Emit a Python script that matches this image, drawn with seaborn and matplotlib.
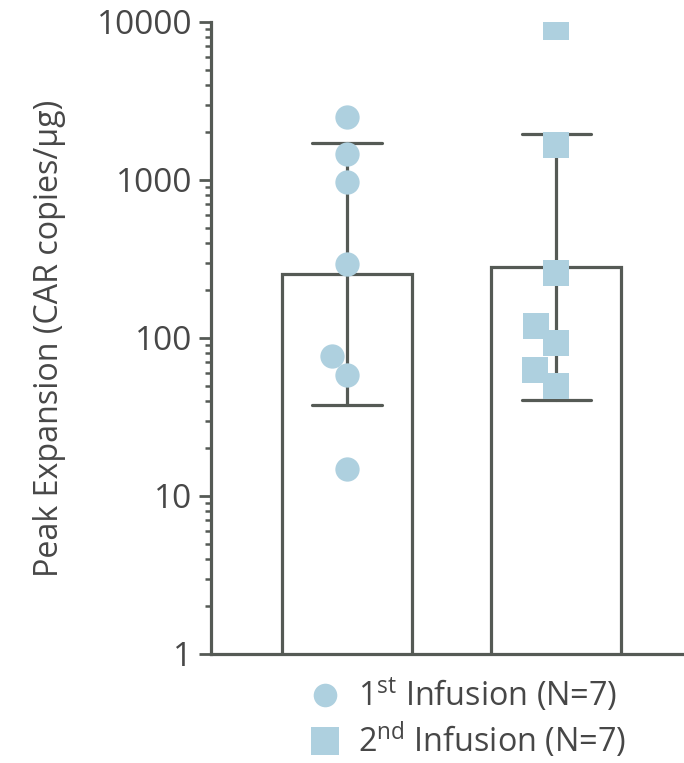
import numpy as np
import pandas as pd
import matplotlib
matplotlib.use("Agg")
import matplotlib.pyplot as plt
import matplotlib.ticker as mticker
from matplotlib.lines import Line2D
import seaborn as sns

# ---- data ----
groups = ["1st Infusion", "2nd Infusion"]
first_infusion = [2505, 1462, 971, 294, 77, 58, 14.8]
second_infusion = [9300, 1667, 258, 119, 93, 63, 50]
legend_labels = [r"1$^{\mathrm{st}}$ Infusion (N=7)", r"2$^{\mathrm{nd}}$ Infusion (N=7)"]
y_ticks = [1, 10, 100, 1000, 10000]
y_label = "Peak Expansion (CAR copies/µg)"

df = pd.DataFrame({
    "group": [groups[0]] * len(first_infusion) + [groups[1]] * len(second_infusion),
    "value": first_infusion + second_infusion,
})

# ---- style ----
sns.set_style("ticks")
plt.rcParams["font.family"] = ["Open Sans", "DejaVu Sans"]
plt.rcParams["mathtext.fontset"] = "custom"
plt.rcParams["mathtext.rm"] = "Open Sans"
plt.rcParams["mathtext.it"] = "Open Sans:italic"
plt.rcParams["mathtext.bf"] = "Open Sans:bold"

AX = "#555a55"
TXT = "#474747"
PT = "#aed0df"

fig = plt.figure(figsize=(6.84, 7.63), dpi=100)
ax = fig.add_axes([211 / 684, 1 - 654 / 763, 1 - 211 / 684, (654 - 22) / 763])

# bars: geometric mean +/- geometric SD (seaborn aggregates in log space)
sns.barplot(data=df, x="group", y="value", order=groups, log_scale=True,
            estimator="mean", errorbar="sd", capsize=0.33, width=0.62,
            color="white", saturation=1, edgecolor=AX, linewidth=2.3,
            err_kws={"color": AX, "linewidth": 2.3}, ax=ax)

sub1 = df[df["group"] == groups[0]]
sub2 = df[df["group"] == groups[1]]
sns.swarmplot(data=sub1, x="group", y="value", order=groups, color=PT,
              marker="o", size=17.5, linewidth=0, zorder=3, ax=ax)
sns.swarmplot(data=sub2, x="group", y="value", order=groups, color=PT,
              marker="s", size=18.5, linewidth=0, zorder=3, ax=ax)

ax.set_yscale("log")
ax.set_ylim(1, 10000)
ax.set_xlim(-0.649, 1.609)
ax.yaxis.set_major_locator(mticker.FixedLocator(y_ticks))
ax.yaxis.set_major_formatter(mticker.FuncFormatter(lambda v, _: f"{int(round(v))}"))
ax.yaxis.set_minor_locator(mticker.LogLocator(base=10, subs=np.arange(2, 10)))
ax.yaxis.set_minor_formatter(mticker.NullFormatter())

ax.tick_params(axis="y", which="major", length=8.6, width=2.0, color=AX,
               labelsize=24, labelcolor=TXT, pad=5.0, direction="out")
ax.tick_params(axis="y", which="minor", length=4.3, width=1.8, color=AX)
ax.tick_params(axis="x", which="both", length=0, labelbottom=False)
ax.set_xlabel("")
ax.set_ylabel(y_label, fontsize=23.2, color=TXT, labelpad=22)

for s in ["top", "right"]:
    ax.spines[s].set_visible(False)
for s in ["left", "bottom"]:
    ax.spines[s].set_color(AX)
    ax.spines[s].set_linewidth(2.3)
ax.set_facecolor("white")
ax.grid(False)

handles = [
    Line2D([], [], marker="o", linestyle="none", markersize=17, color=PT, markeredgewidth=0),
    Line2D([], [], marker="s", linestyle="none", markersize=19.5, color=PT, markeredgewidth=0),
]
fig.legend(handles, legend_labels, loc="upper left",
           bbox_to_anchor=(309 / 684, 1 - 676 / 763), frameon=False,
           fontsize=23.3, labelcolor=TXT, borderpad=0, handlelength=1.0,
           handletextpad=0.5, labelspacing=0.2, borderaxespad=0)

fig.savefig("out.png", dpi=100, facecolor="white")
